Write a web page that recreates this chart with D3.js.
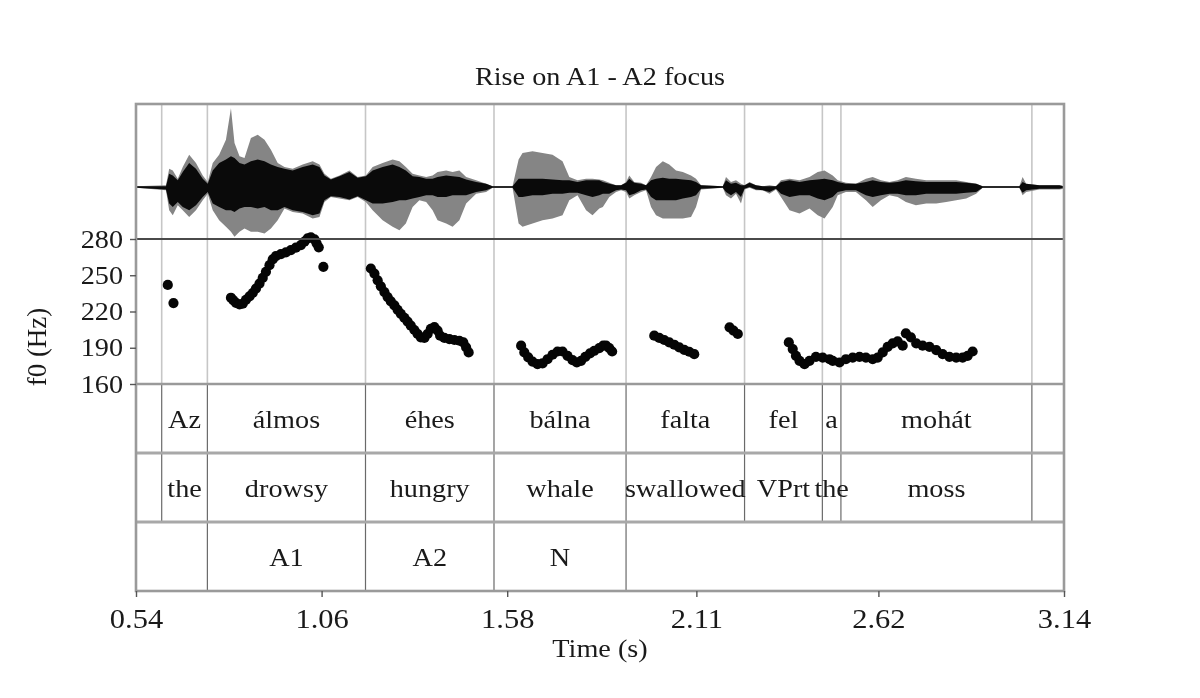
<!DOCTYPE html>
<html>
<head>
<meta charset="utf-8">
<script src="https://cdn.jsdelivr.net/npm/d3@7"></script>
<style>
  html, body { margin: 0; padding: 0; background: #fff; }
  svg { display: block; filter: blur(0.55px); }
</style>
</head>
<body>
<svg id="chart" width="1200" height="698"></svg>
<script>
// ---- data ----
const titleText = "Rise on A1 - A2 focus";
const timeTicks = [0.54, 1.06, 1.58, 2.11, 2.62, 3.14];
const pitchTicks = [160, 190, 220, 250, 280];

// interval tiers: boundaries (s) and labels
const wordBounds = [0.54, 0.612, 0.740, 1.183, 1.543, 1.913, 2.245, 2.463, 2.515, 3.050, 3.14];
const words = ["", "Az", "álmos", "éhes", "bálna", "falta", "fel", "a", "mohát", ""];
const glosses = ["", "the", "drowsy", "hungry", "whale", "swallowed", "VPrt", "the", "moss", ""];
const focusBounds = [0.54, 0.740, 1.183, 1.543, 1.913, 3.14];
const focusLabels = ["", "A1", "A2", "N", ""];

// f0 track: [time (s), f0 (Hz)]
const pitchTrack = [
  [0.629, 242], [0.645, 227],
  [0.806, 231.4], [0.813, 229.2], [0.820, 227.2], [0.830, 225.8], [0.839, 226.4], [0.848, 229.7],
  [0.858, 232.5], [0.867, 235.3], [0.876, 238.9], [0.886, 243.1], [0.895, 247.8], [0.904, 252.8],
  [0.914, 258.3], [0.923, 263.1], [0.932, 265.8], [0.946, 267.5], [0.960, 268.9], [0.974, 270.8],
  [0.988, 272.8], [1.002, 275.0], [1.012, 277.8], [1.021, 280.6], [1.030, 281.4], [1.040, 279.7],
  [1.046, 276.4], [1.052, 273.1],
  [1.065, 257.0],
  [1.198, 255.6], [1.208, 251.4], [1.217, 245.8], [1.226, 240.8], [1.236, 236.1], [1.245, 231.9],
  [1.254, 228.3], [1.264, 225.0], [1.273, 221.4], [1.282, 218.1], [1.292, 214.7], [1.301, 211.7],
  [1.310, 208.3], [1.320, 204.7], [1.329, 201.4], [1.338, 198.6], [1.348, 198.1], [1.357, 201.4],
  [1.366, 205.6], [1.376, 207.0], [1.385, 204.2], [1.392, 200.0], [1.404, 198.1], [1.418, 197.2],
  [1.432, 196.4], [1.446, 195.8], [1.457, 194.4], [1.465, 190.3], [1.472, 186.1],
  [1.619, 191.7], [1.628, 186.1], [1.639, 182.0], [1.651, 178.6], [1.665, 176.4], [1.679, 177.0],
  [1.693, 180.5], [1.707, 184.2], [1.721, 186.9], [1.735, 186.9], [1.749, 183.3], [1.763, 179.7],
  [1.775, 177.8], [1.787, 179.2], [1.799, 182.5], [1.812, 185.3], [1.824, 187.5], [1.838, 189.7],
  [1.849, 191.7], [1.857, 191.7], [1.866, 189.7], [1.874, 186.9],
  [1.992, 200.0], [2.006, 198.1], [2.020, 196.4], [2.034, 194.4], [2.048, 192.5], [2.062, 190.3],
  [2.076, 188.3], [2.090, 186.7], [2.104, 184.7],
  [2.203, 206.9], [2.214, 204.2], [2.226, 201.4],
  [2.369, 194.4], [2.380, 188.9], [2.389, 183.3], [2.399, 179.2], [2.413, 176.4], [2.427, 179.2],
  [2.445, 182.5], [2.464, 181.9], [2.483, 180.5], [2.492, 179.2], [2.511, 177.8], [2.529, 180.5],
  [2.548, 181.9], [2.567, 182.5], [2.585, 181.9], [2.604, 180.5], [2.618, 181.9], [2.632, 186.1],
  [2.646, 190.8], [2.660, 193.6], [2.674, 195.3], [2.688, 191.7], [2.697, 201.9], [2.711, 198.6],
  [2.726, 193.6], [2.744, 191.7], [2.763, 190.8], [2.782, 188.1], [2.800, 184.7], [2.819, 182.5],
  [2.838, 181.9], [2.856, 181.9], [2.870, 183.3], [2.884, 186.9]
];

// waveform envelope: [time, outer max, outer min, core max, core min] (relative amplitude)
const waveEnvelope = [
  [0.540, 0.01, -0.01, 0.01, -0.01], [0.624, 0.02, -0.04, 0.01, -0.03], [0.633, 0.22, -0.28, 0.16, -0.20],
  [0.643, 0.20, -0.34, 0.14, -0.24], [0.657, 0.10, -0.22, 0.08, -0.18], [0.671, 0.24, -0.28, 0.18, -0.24],
  [0.689, 0.39, -0.36, 0.29, -0.28], [0.708, 0.29, -0.28, 0.22, -0.22], [0.727, 0.14, -0.16, 0.10, -0.12],
  [0.741, 0.06, -0.08, 0.04, -0.06], [0.755, 0.29, -0.28, 0.20, -0.20], [0.773, 0.39, -0.40, 0.29, -0.24],
  [0.792, 0.57, -0.48, 0.33, -0.28], [0.806, 0.95, -0.54, 0.37, -0.28], [0.816, 0.53, -0.60, 0.35, -0.30],
  [0.830, 0.37, -0.54, 0.29, -0.26], [0.844, 0.35, -0.50, 0.27, -0.24], [0.862, 0.59, -0.54, 0.31, -0.24],
  [0.881, 0.63, -0.54, 0.33, -0.26], [0.900, 0.57, -0.56, 0.31, -0.24], [0.918, 0.45, -0.50, 0.27, -0.28],
  [0.937, 0.29, -0.40, 0.24, -0.28], [0.956, 0.24, -0.26, 0.22, -0.24], [0.979, 0.22, -0.30, 0.20, -0.28],
  [1.007, 0.27, -0.32, 0.24, -0.30], [1.035, 0.31, -0.38, 0.27, -0.34], [1.054, 0.27, -0.36, 0.24, -0.32],
  [1.068, 0.16, -0.18, 0.14, -0.16], [1.086, 0.10, -0.12, 0.09, -0.11], [1.110, 0.14, -0.14, 0.13, -0.12],
  [1.138, 0.20, -0.16, 0.18, -0.15], [1.161, 0.12, -0.12, 0.11, -0.11], [1.184, 0.14, -0.18, 0.13, -0.16],
  [1.203, 0.24, -0.28, 0.20, -0.20], [1.231, 0.29, -0.40, 0.24, -0.20], [1.259, 0.33, -0.48, 0.27, -0.18],
  [1.278, 0.31, -0.52, 0.24, -0.16], [1.296, 0.24, -0.44, 0.20, -0.16], [1.315, 0.16, -0.24, 0.13, -0.14],
  [1.334, 0.14, -0.16, 0.12, -0.12], [1.353, 0.12, -0.18, 0.10, -0.10], [1.371, 0.14, -0.28, 0.10, -0.10],
  [1.385, 0.18, -0.40, 0.12, -0.12], [1.409, 0.20, -0.44, 0.14, -0.12], [1.427, 0.18, -0.48, 0.13, -0.10],
  [1.446, 0.20, -0.40, 0.12, -0.10], [1.465, 0.12, -0.20, 0.09, -0.10], [1.493, 0.08, -0.08, 0.06, -0.06],
  [1.521, 0.04, -0.06, 0.04, -0.04], [1.539, 0.01, -0.01, 0.01, -0.01], [1.595, 0.01, -0.01, 0.01, -0.01],
  [1.612, 0.33, -0.44, 0.10, -0.12], [1.623, 0.41, -0.48, 0.10, -0.12], [1.651, 0.43, -0.44, 0.10, -0.10],
  [1.679, 0.41, -0.40, 0.10, -0.10], [1.707, 0.39, -0.38, 0.09, -0.08], [1.735, 0.31, -0.34, 0.08, -0.08],
  [1.754, 0.12, -0.16, 0.08, -0.07], [1.777, 0.08, -0.10, 0.06, -0.07], [1.801, 0.10, -0.28, 0.08, -0.10],
  [1.819, 0.10, -0.34, 0.08, -0.12], [1.838, 0.09, -0.26, 0.08, -0.10], [1.848, 0.08, -0.24, 0.06, -0.08],
  [1.866, 0.05, -0.12, 0.04, -0.08], [1.885, 0.02, -0.06, 0.02, -0.04], [1.899, 0.02, -0.04, 0.02, -0.03],
  [1.913, 0.06, -0.06, 0.05, -0.04], [1.922, 0.14, -0.14, 0.10, -0.10], [1.936, 0.06, -0.10, 0.05, -0.08],
  [1.955, 0.05, -0.06, 0.04, -0.04], [1.969, 0.02, -0.04, 0.02, -0.03], [1.983, 0.12, -0.24, 0.08, -0.12],
  [1.997, 0.24, -0.34, 0.10, -0.16], [2.016, 0.31, -0.38, 0.11, -0.16], [2.034, 0.27, -0.38, 0.10, -0.16],
  [2.053, 0.20, -0.38, 0.10, -0.16], [2.072, 0.18, -0.38, 0.09, -0.14], [2.095, 0.14, -0.36, 0.08, -0.12],
  [2.109, 0.10, -0.24, 0.06, -0.10], [2.123, 0.02, -0.03, 0.02, -0.02], [2.184, 0.01, -0.01, 0.01, -0.01],
  [2.193, 0.12, -0.10, 0.08, -0.06], [2.207, 0.06, -0.14, 0.04, -0.10], [2.221, 0.08, -0.08, 0.05, -0.06],
  [2.235, 0.04, -0.20, 0.02, -0.12], [2.245, 0.02, -0.03, 0.02, -0.02], [2.259, 0.06, -0.01, 0.05, 0.00],
  [2.277, 0.02, -0.04, 0.02, -0.03], [2.296, 0.01, -0.04, 0.01, -0.04], [2.315, 0.02, -0.08, 0.01, -0.06],
  [2.333, 0.01, -0.03, 0.01, -0.02], [2.347, 0.08, -0.12, 0.06, -0.08], [2.371, 0.10, -0.28, 0.08, -0.12],
  [2.399, 0.08, -0.32, 0.06, -0.10], [2.427, 0.12, -0.26, 0.08, -0.10], [2.450, 0.18, -0.34, 0.09, -0.14],
  [2.469, 0.20, -0.38, 0.10, -0.16], [2.492, 0.14, -0.24, 0.08, -0.12], [2.506, 0.08, -0.10, 0.06, -0.06],
  [2.529, 0.05, -0.06, 0.04, -0.04], [2.557, 0.04, -0.06, 0.04, -0.04], [2.585, 0.10, -0.16, 0.06, -0.10],
  [2.604, 0.12, -0.24, 0.08, -0.12], [2.627, 0.08, -0.16, 0.06, -0.10], [2.651, 0.06, -0.10, 0.05, -0.08],
  [2.674, 0.08, -0.12, 0.06, -0.08], [2.697, 0.12, -0.18, 0.08, -0.10], [2.725, 0.10, -0.22, 0.07, -0.10],
  [2.754, 0.08, -0.20, 0.06, -0.08], [2.782, 0.08, -0.20, 0.06, -0.08], [2.810, 0.08, -0.18, 0.06, -0.08],
  [2.838, 0.08, -0.16, 0.06, -0.08], [2.866, 0.06, -0.14, 0.05, -0.07], [2.894, 0.04, -0.08, 0.04, -0.06],
  [2.912, 0.01, -0.01, 0.01, -0.01], [3.015, 0.01, -0.01, 0.01, -0.01], [3.024, 0.12, -0.10, 0.06, -0.07],
  [3.034, 0.04, -0.06, 0.04, -0.04], [3.071, 0.02, -0.03, 0.02, -0.02], [3.127, 0.02, -0.03, 0.02, -0.02],
  [3.140, 0.01, -0.02, 0.01, -0.01]
];

// ---- layout ----
const plotLeft = 136, plotRight = 1064;
const waveTop = 104, pitchTop = 239, pitchBottom = 384;
const tierH = 69;
const plotBottom = pitchBottom + 3 * tierH;
const fontFamily = "'Liberation Serif', 'Times New Roman', serif";
const textStretch = "scale(1.13,1)";
const inkColor = "#1a1a1a";

const svg = d3.select("#chart");

const x = d3.scaleLinear().domain([0.54, 3.14]).range([plotLeft, plotRight]);
const yPitch = d3.scaleLinear().domain([160, 280]).range([pitchBottom, pitchTop]);
const yWave = d3.scaleLinear().domain([-1, 1]).range([270, waveTop]);

// boundary lines through the waveform and pitch panel
svg.append('g')
    .selectAll('line')
    .data(wordBounds.slice(1, -1))
    .enter()
    .append('line')
    .attr('x1', d => x(d)).attr('x2', d => x(d))
    .attr('y1', waveTop).attr('y2', pitchBottom)
    .attr('stroke', '#c6c6c6')
    .attr('stroke-width', 1.6);

// waveform
let wave = svg.append('g');
wave.append('line')
    .attr('x1', plotLeft).attr('x2', plotRight)
    .attr('y1', yWave(0)).attr('y2', yWave(0))
    .attr('stroke', '#555')
    .attr('stroke-width', 1);
wave.append('path')
    .datum(waveEnvelope)
    .attr('fill', '#858585')
    .attr('d', d3.area()
        .x(d => x(d[0]))
        .y0(d => yWave(d[2]))
        .y1(d => yWave(d[1])));
wave.append('path')
    .datum(waveEnvelope)
    .attr('fill', '#0a0a0a')
    .attr('d', d3.area()
        .x(d => x(d[0]))
        .y0(d => yWave(d[4]))
        .y1(d => yWave(d[3])));

// pitch speckles
svg.append('g')
    .selectAll('circle')
    .data(pitchTrack)
    .enter()
    .append('circle')
    .attr('cx', d => x(d[0]))
    .attr('cy', d => yPitch(d[1]))
    .attr('r', 5.1)
    .attr('fill', '#050505');

// tiers
function drawTier(bounds, labels, row) {
    let top = pitchBottom + row * tierH;
    let g = svg.append('g');
    g.selectAll('line')
        .data(bounds.slice(1, -1))
        .enter()
        .append('line')
        .attr('x1', d => x(d)).attr('x2', d => x(d))
        .attr('y1', top).attr('y2', top + tierH)
        .attr('stroke', '#6a6a6a')
        .attr('stroke-width', 1.2);
    g.selectAll('text')
        .data(labels)
        .enter()
        .append('text')
        .attr('transform', (d, i) => `translate(${(x(bounds[i]) + x(bounds[i + 1])) / 2},${top + tierH / 2 + 9}) ${textStretch}`)
        .attr('text-anchor', 'middle')
        .style('font-family', fontFamily)
        .style('font-size', '25px')
        .attr('fill', inkColor)
        .text(d => d);
}
drawTier(wordBounds, words, 0);
drawTier(wordBounds, glosses, 1);
drawTier(focusBounds, focusLabels, 2);

// horizontal rules and frame
let rules = svg.append('g').attr('fill', 'none');
[pitchBottom + tierH, pitchBottom + 2 * tierH].forEach(y => {
    rules.append('line')
        .attr('x1', plotLeft).attr('x2', plotRight)
        .attr('y1', y).attr('y2', y)
        .attr('stroke', '#a8a8a8')
        .attr('stroke-width', 3);
});
rules.append('line')
    .attr('x1', plotLeft).attr('x2', plotRight)
    .attr('y1', pitchBottom).attr('y2', pitchBottom)
    .attr('stroke', '#9a9a9a')
    .attr('stroke-width', 2.5);
rules.append('line')
    .attr('x1', plotLeft).attr('x2', plotRight)
    .attr('y1', pitchTop).attr('y2', pitchTop)
    .attr('stroke', '#4a4a4a')
    .attr('stroke-width', 2);
rules.append('rect')
    .attr('x', plotLeft).attr('y', waveTop)
    .attr('width', plotRight - plotLeft)
    .attr('height', plotBottom - waveTop)
    .attr('stroke', '#9a9a9a')
    .attr('stroke-width', 2.6);

// axes
function styleAxis(g, size) {
    g.select('.domain').remove();
    g.selectAll('.tick line').attr('stroke', '#555').attr('stroke-width', 1.4);
    g.selectAll('.tick text')
        .attr('transform', textStretch)
        .attr('fill', inkColor)
        .style('font-family', fontFamily)
        .style('font-size', size);
}

svg.append('g')
    .attr('transform', `translate(${plotLeft},0)`)
    .call(d3.axisLeft(yPitch).tickValues(pitchTicks).tickSize(6).tickPadding(5.5).tickFormat(d3.format('d')))
    .call(g => styleAxis(g, '25px'));

svg.append('g')
    .attr('transform', `translate(0,${plotBottom})`)
    .call(d3.axisBottom(x).tickValues(timeTicks).tickSize(6).tickPadding(12).tickFormat(d3.format('.2f')))
    .call(g => styleAxis(g, '27px'));

// titles
svg.append('text')
    .attr('transform', `translate(${(plotLeft + plotRight) / 2},85) ${textStretch}`)
    .attr('text-anchor', 'middle')
    .style('font-family', fontFamily)
    .style('font-size', '25px')
    .attr('fill', inkColor)
    .text(titleText);

svg.append('text')
    .attr('transform', `translate(${(plotLeft + plotRight) / 2},657) ${textStretch}`)
    .attr('text-anchor', 'middle')
    .style('font-family', fontFamily)
    .style('font-size', '25px')
    .attr('fill', inkColor)
    .text('Time (s)');

svg.append('text')
    .attr('transform', 'translate(46,347) rotate(-90)')
    .attr('text-anchor', 'middle')
    .style('font-family', fontFamily)
    .style('font-size', '27px')
    .attr('fill', inkColor)
    .text('f0 (Hz)');
</script>
</body>
</html>
